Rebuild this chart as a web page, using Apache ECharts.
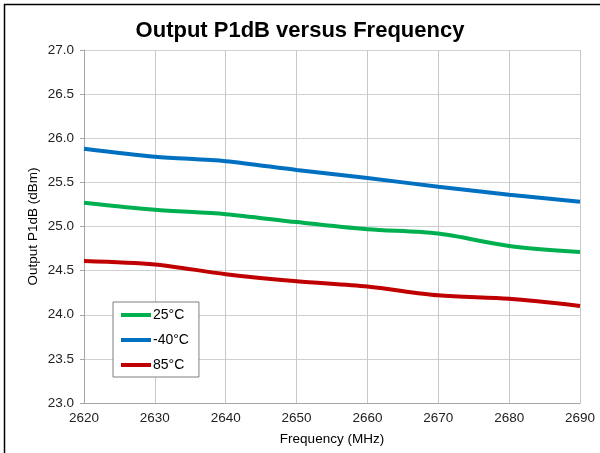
<!DOCTYPE html>
<html>
<head>
<meta charset="utf-8">
<script src="https://cdn.jsdelivr.net/npm/echarts@6/dist/echarts.min.js"></script>
<style>
  html, body { margin: 0; padding: 0; background: #fff; }
  #chart { width: 600px; height: 453px; }
</style>
</head>
<body>
<div id="chart"></div>
<script>
// Frequency points (MHz)
const frequencies = [2620, 2630, 2640, 2650, 2660, 2670, 2680, 2690];

// Output P1dB (dBm) per temperature
const p1dbRoom = [25.27, 25.19, 25.14, 25.05, 24.97, 24.92, 24.78, 24.71];
const p1dbCold = [25.88, 25.79, 25.74, 25.64, 25.55, 25.45, 25.36, 25.28];
const p1dbHot  = [24.61, 24.57, 24.46, 24.38, 24.32, 24.22, 24.18, 24.10];

const seriesNames = ['25°C', '-40°C', '85°C'];
const seriesColors = ['#00B050', '#0070C0', '#C00000'];
const seriesValues = [p1dbRoom, p1dbCold, p1dbHot];

const font = 'Arial, "Liberation Sans", sans-serif';

const chart = echarts.init(document.getElementById('chart'), null, { renderer: 'canvas' });

chart.setOption({
  backgroundColor: '#ffffff',
  animation: false,
  title: {
    text: 'Output P1dB versus Frequency',
    left: 'center',
    top: 15,
    textStyle: { fontFamily: font, fontSize: 22, fontWeight: 'bold', color: '#000' }
  },
  graphic: [{
    type: 'rect',
    shape: { x: 4.5, y: 4.5, width: 800, height: 800 },
    style: { fill: 'none', stroke: '#000', lineWidth: 1.5 },
    silent: true
  }],
  legend: {
    orient: 'vertical',
    left: 113,
    top: 302,
    padding: [6, 10, 5, 8],
    itemGap: 11,
    itemWidth: 30,
    itemHeight: 4,
    icon: 'rect',
    backgroundColor: '#fff',
    borderColor: '#7f7f7f',
    borderWidth: 1,
    borderRadius: 0,
    textStyle: { fontFamily: font, fontSize: 14, color: '#000', padding: [0, 0, 0, -3] },
    data: seriesNames
  },
  grid: { left: 84, right: 20, top: 50, bottom: 50, containLabel: false },
  xAxis: {
    type: 'value',
    min: 2620,
    max: 2690,
    interval: 10,
    name: 'Frequency (MHz)',
    nameLocation: 'middle',
    nameGap: 29,
    nameTextStyle: { fontFamily: font, fontSize: 13.5, color: '#000' },
    axisLine: { show: true, lineStyle: { color: '#a6a6a6', width: 1 } },
    axisTick: { show: false },
    axisLabel: {
      fontFamily: font, fontSize: 13.5, color: '#222', margin: 8,
      formatter: v => String(v)
    },
    splitLine: { show: true, lineStyle: { color: '#c8c8c8', width: 1 } }
  },
  yAxis: {
    type: 'value',
    min: 23.0,
    max: 27.0,
    interval: 0.5,
    name: 'Output P1dB (dBm)',
    nameLocation: 'middle',
    nameGap: 44,
    nameMoveOverlap: false,
    nameRotate: 90,
    nameTextStyle: { fontFamily: font, fontSize: 13.5, color: '#000' },
    axisLine: { show: true, lineStyle: { color: '#a6a6a6', width: 1 } },
    axisTick: { show: true, length: 4, inside: false, lineStyle: { color: '#a6a6a6' } },
    axisLabel: {
      fontFamily: font, fontSize: 13.5, color: '#222', margin: 10,
      formatter: v => v.toFixed(1)
    },
    splitLine: { show: true, lineStyle: { color: '#d0d0d0', width: 1 } }
  },
  series: seriesNames.map((name, i) => ({
    name,
    type: 'line',
    smooth: 0.3,
    showSymbol: false,
    symbol: 'none',
    color: seriesColors[i],
    lineStyle: { width: 4, color: seriesColors[i] },
    data: frequencies.map((f, k) => [f, seriesValues[i][k]])
  }))
});
</script>
</body>
</html>
